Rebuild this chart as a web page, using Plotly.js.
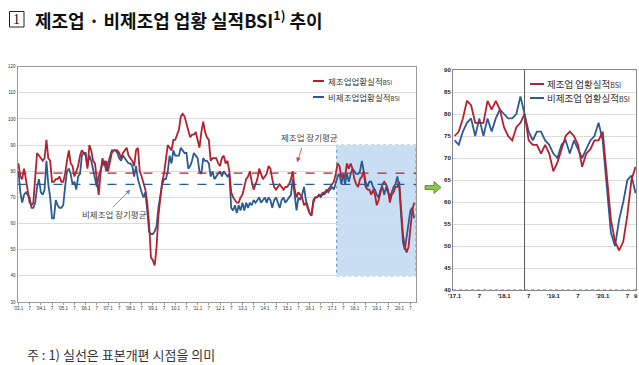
<!DOCTYPE html>
<html><head><meta charset="utf-8">
<script src="https://cdn.plot.ly/plotly-3.0.1.min.js"></script>
<style>html,body{margin:0;padding:0;background:#fff}#c{width:639px;height:365px}</style>
</head><body><div id="c"></div>
<script>
// ---- data ----
// 제조업 업황실적BSI, 2003.1 ~ 2016.12
const mfg2003_2016 = [
 83,78,77,81,77,72,68,67,68,78,87,86,
 85,84,85,92,85,84,76,76,77,77,78,76,
 76,79,84,88,83,82,78,80,82,86,88,87,
 86,81,90,88,84,83,77,71,79,85,82,84,
 80,84,87,88,88,88,87,85,87,88,89,86,
 85,84,82,88,89,80,78,75,73,68,60,47,
 46,44,51,63,70,76,79,85,90,89,88,92,
 92,94,96,101,102,101,98,95,93,94,94,95,
 92,89,95,99,95,93,92,84,85,85,85,83,
 82,85,86,83,84,80,72,70,69,68,68,70,
 71,74,77,78,80,76,73,75,77,81,79,77,
 78,79,82,81,77,74,73,74,75,74,73,74,
 74,75,77,80,73,70,72,71,70,67,68,66,
 64,63,68,70,70,71,71,71,72,72,73,74];
// 비제조업 업황실적BSI, 2003.1 ~ 2016.12
const nonmfg2003_2016 = [
 80,72,68,71,72,71,70,66,66,68,74,77,
 72,71,73,84,75,70,62,62,69,67,66,66,
 67,74,80,81,79,75,76,73,78,79,86,87,
 87,82,86,84,81,77,74,78,81,83,84,80,
 83,86,88,88,88,87,85,84,86,85,84,83,
 83,82,78,82,77,74,72,70,72,65,57,56,
 56,57,59,66,71,75,77,77,80,86,83,88,
 86,86,86,89,88,87,87,81,82,84,87,86,
 85,80,79,85,84,84,83,78,80,77,78,79,
 80,78,80,79,78,79,66,65,67,64,67,65,
 68,65,68,66,68,67,69,68,69,70,68,69,
 70,68,70,69,66,69,70,68,66,69,70,68,
 69,70,71,77,70,65,70,69,71,74,69,66,
 64,63,69,70,70,71,70,72,71,73,72,73];
// 2017.1 ~ 2020.9
const mfg2017_2020 = [
 75,76,79,83,82,78,78,78,83,81,83,81,
 77,75,74,77,78,80,74,73,73,71,73,71,
 67,69,72,75,76,75,73,68,71,72,74,74,
 76,65,56,51,49,51,57,65,68];
const nonmfg2017_2020 = [
 74,73,76,78,79,75,79,75,79,76,79,81,
 80,79,79,80,84,80,76,74,76,76,74,73,
 71,70,73,74,71,74,72,70,72,74,75,78,
 74,64,53,50,56,60,65,66,62];
// long-run averages
const mfgLongAvg = 79.3;
const nonmfgLongAvg = 75;
// tick labels
const leftTickText = ["'03.1","7","'04.1","7","'05.1","7","'06.1","7","'07.1","7","'08.1","7","'09.1","7",
 "'10.1","7","'11.1","7","'12.1","7","'13.1","7","'14.1","7","'15.1","7","'16.1","7","'17.1","7",
 "'18.1","7","'19.1","7","'20.1","7"];
const rightTickText = ["'17.1","7","'18.1","7","'19.1","7","'20.1","7","9"];
const rightTickIdx = [0,6,12,18,24,30,36,42,44];
const sampleRevisionIdx = 17; // 2018.6

// ---- build ----
const mfgAll = mfg2003_2016.concat(mfg2017_2020);
const nonAll = nonmfg2003_2016.concat(nonmfg2017_2020);
const xl = mfgAll.map((_, i) => i);
const xr = mfg2017_2020.map((_, i) => i);
const leftTickVals = leftTickText.map((_, i) => i * 6);

const W = 639, H = 365;
const px = x => x / W, py = y => 1 - y / H;
const RED = '#b5202e', BLUE = '#2b5b93';
const KR = 'Noto Sans CJK KR, sans-serif';
const LAT = 'Liberation Sans, Arial, sans-serif';

const traces = [
 {x: xl, y: nonAll, type: 'scatter', mode: 'lines', line: {color: BLUE, width: 1.8}, xaxis: 'x', yaxis: 'y', hoverinfo: 'skip'},
 {x: xl, y: mfgAll, type: 'scatter', mode: 'lines', line: {color: RED, width: 1.8}, xaxis: 'x', yaxis: 'y', hoverinfo: 'skip'},
 {x: xr, y: nonmfg2017_2020, type: 'scatter', mode: 'lines', line: {color: BLUE, width: 1.8}, xaxis: 'x2', yaxis: 'y2', hoverinfo: 'skip'},
 {x: xr, y: mfg2017_2020, type: 'scatter', mode: 'lines', line: {color: RED, width: 1.8}, xaxis: 'x2', yaxis: 'y2', hoverinfo: 'skip'}
];

function pathOf(pts) {
 return 'M' + pts.map(p => px(p[0]) + ',' + py(p[1])).join(' L') + ' Z';
}

const shapes = [
 // shaded zoom region
 {type: 'rect', xref: 'x', yref: 'y', x0: 170.5, x1: 213, y0: 40, y1: 90, fillcolor: 'rgba(185,214,240,0.8)',
  line: {color: '#6d8fb3', width: 1, dash: 'dot'}, layer: 'below'},
 // long-run averages
 {type: 'line', xref: 'x', yref: 'y', x0: -0.5, x1: 213, y0: mfgLongAvg, y1: mfgLongAvg, line: {color: RED, width: 1.3, dash: 'dash'}},
 {type: 'line', xref: 'x', yref: 'y', x0: -0.5, x1: 213, y0: nonmfgLongAvg, y1: nonmfgLongAvg, line: {color: BLUE, width: 1.3, dash: 'dash'}},
 // sample revision line
 {type: 'line', xref: 'x2', yref: 'y2', x0: sampleRevisionIdx, x1: sampleRevisionIdx, y0: 40, y1: 90, line: {color: '#555', width: 1}},
 // right panel dotted bottom
 {type: 'line', xref: 'x2', yref: 'y2', x0: -0.4, x1: 44.1, y0: 40, y1: 40, line: {color: '#777', width: 1, dash: 'dot'}},
 // left legend samples
 {type: 'line', xref: 'paper', yref: 'paper', x0: px(313), x1: px(324), y0: py(81), y1: py(81), line: {color: RED, width: 2}},
 {type: 'line', xref: 'paper', yref: 'paper', x0: px(313), x1: px(324), y0: py(97), y1: py(97), line: {color: BLUE, width: 2}},
 // right legend samples
 {type: 'line', xref: 'paper', yref: 'paper', x0: px(530), x1: px(544), y0: py(84), y1: py(84), line: {color: RED, width: 2}},
 {type: 'line', xref: 'paper', yref: 'paper', x0: px(530), x1: px(544), y0: py(98), y1: py(98), line: {color: BLUE, width: 2}},
 // callout arrows
 {type: 'line', xref: 'paper', yref: 'paper', x0: px(301.7), y0: py(148), x1: px(298.5), y1: py(158.5), line: {color: '#c0504d', width: 0.9}},
 {type: 'path', xref: 'paper', yref: 'paper', path: pathOf([[297.3,162],[300.4,158.6],[296.6,157.4]]), fillcolor: '#c0504d', line: {color: '#c0504d', width: 0.5}},
 {type: 'line', xref: 'paper', yref: 'paper', x0: px(113), y0: py(207), x1: px(127.5), y1: py(192.5), line: {color: '#6a8db5', width: 0.9}},
 {type: 'path', xref: 'paper', yref: 'paper', path: pathOf([[130,190],[128.6,194.2],[125.8,191.4]]), fillcolor: '#6a8db5', line: {color: '#6a8db5', width: 0.5}},
 // title number box
 {type: 'rect', xref: 'paper', yref: 'paper', x0: px(9.5), x1: px(24), y0: py(27), y1: py(11.5), line: {color: '#222', width: 1}},
 // green arrow
 {type: 'path', xref: 'paper', yref: 'paper',
  path: pathOf([[425,185.5],[434,185.5],[434,181.5],[441,187.5],[434,193.5],[434,189.5],[425,189.5]]),
  fillcolor: '#8cc34a', line: {color: '#557f2a', width: 0.8}}
];

const small = "<span style='font-size:6px'>BSI</span>";
const smallR = "<span style='font-size:7px'>BSI</span>";
const annotations = [
 {xref: 'paper', yref: 'paper', x: px(16.8), y: py(19.2), text: '1', showarrow: false, xanchor: 'center', yanchor: 'middle',
  font: {family: 'Liberation Serif, serif', size: 14, color: '#111'}},
 {xref: 'paper', yref: 'paper', x: px(33), y: py(19), text: '<b>제조업 · 비제조업 업황 실적BSI<sup>1)</sup> 추이</b>', showarrow: false,
  xanchor: 'left', yanchor: 'middle', font: {family: KR, size: 18, color: '#111'}},
 {xref: 'paper', yref: 'paper', x: px(326), y: py(81), text: '제조업업황실적' + small, showarrow: false, xanchor: 'left', yanchor: 'middle',
  font: {family: KR, size: 8.5, color: '#333'}},
 {xref: 'paper', yref: 'paper', x: px(326), y: py(97), text: '비제조업업황실적' + small, showarrow: false, xanchor: 'left', yanchor: 'middle',
  font: {family: KR, size: 8.5, color: '#333'}},
 {xref: 'paper', yref: 'paper', x: px(545), y: py(84), text: '제조업 업황실적' + smallR, showarrow: false, xanchor: 'left', yanchor: 'middle',
  font: {family: KR, size: 9.5, color: '#333'}},
 {xref: 'paper', yref: 'paper', x: px(545), y: py(98), text: '비제조업 업황실적' + smallR, showarrow: false, xanchor: 'left', yanchor: 'middle',
  font: {family: KR, size: 9.5, color: '#333'}},
 {xref: 'paper', yref: 'paper', x: px(309), y: py(137.5), text: '제조업 장기평균', showarrow: false, xanchor: 'center', yanchor: 'middle',
  font: {family: KR, size: 8.5, color: '#444'}},
 {xref: 'paper', yref: 'paper', x: px(114), y: py(213.5), text: '비제조업 장기평균', showarrow: false, xanchor: 'center', yanchor: 'middle',
  font: {family: KR, size: 8.5, color: '#444'}},
 {xref: 'paper', yref: 'paper', x: px(25), y: py(354), text: '주 : 1) 실선은 표본개편 시점을 의미', showarrow: false, xanchor: 'left', yanchor: 'middle',
  font: {family: KR, size: 13, color: '#333'}}
];

const layout = {
 width: W, height: H, margin: {l: 0, r: 0, t: 0, b: 0}, paper_bgcolor: '#fff', plot_bgcolor: 'rgba(0,0,0,0)',
 showlegend: false,
 xaxis: {domain: [px(17.5), px(416)], range: [-0.5, 213], tickmode: 'array', tickvals: leftTickVals, ticktext: leftTickText,
  tickfont: {family: LAT, size: 4.5, color: '#333'}, showgrid: false, zeroline: false, showline: true, linecolor: '#999', linewidth: 1,
  mirror: true, ticks: 'outside', ticklen: 2, tickcolor: '#999', tickangle: 0, anchor: 'y'},
 yaxis: {domain: [py(302), py(66.7)], range: [30, 120], dtick: 10, tick0: 30, tickfont: {family: LAT, size: 4.5, color: '#333'},
  gridcolor: '#dcdcdc', gridwidth: 1, zeroline: false, showline: true, linecolor: '#999', mirror: true, ticks: '', anchor: 'x'},
 xaxis2: {domain: [px(453), px(636)], range: [-0.4, 44.1], tickmode: 'array', tickvals: rightTickIdx, ticktext: rightTickText,
  tickfont: {family: LAT, size: 6, color: '#222', weight: 'bold'}, showgrid: false, zeroline: false, showline: true, linecolor: '#888',
  mirror: true, ticks: '', tickangle: 0, anchor: 'y2'},
 yaxis2: {domain: [py(290), py(70)], range: [40, 90], dtick: 5, tick0: 40, tickfont: {family: LAT, size: 6, color: '#222', weight: 'bold'},
  gridcolor: '#dcdcdc', zeroline: false, showline: true, linecolor: '#888', mirror: true, ticks: '', anchor: 'x2'},
 shapes: shapes, annotations: annotations
};

Plotly.newPlot('c', traces, layout, {staticPlot: true, displayModeBar: false});
</script></body></html>
